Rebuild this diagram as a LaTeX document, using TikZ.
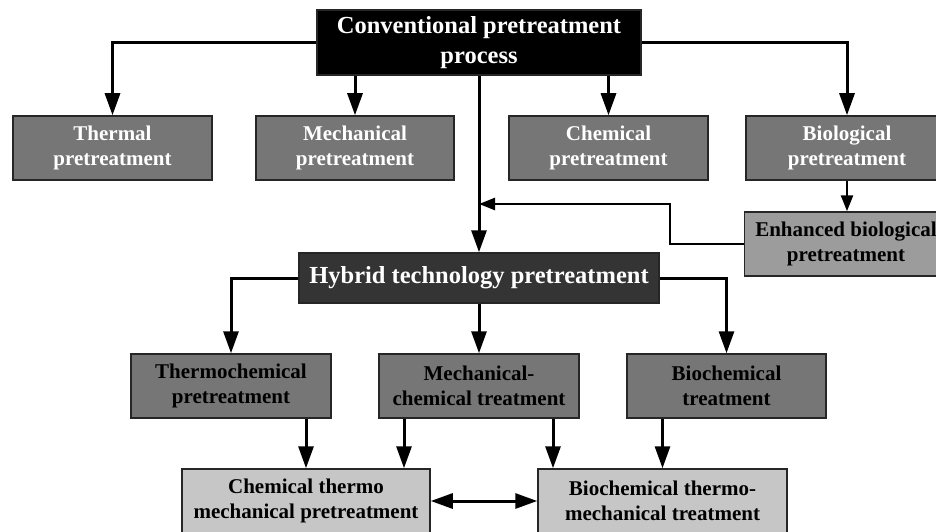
\documentclass[tikz,border=0pt]{standalone}
\usepackage{fontspec}
\setmainfont{Liberation Serif}
\usetikzlibrary{arrows.meta}
\definecolor{hybgray}{RGB}{52,52,52}
\definecolor{midgray}{RGB}{118,118,118}
\definecolor{enhgray}{RGB}{156,156,156}
\definecolor{lightgray}{RGB}{198,198,198}
\begin{document}
\begin{tikzpicture}[x=1pt,y=-1pt,
  box/.style={draw=black!85, line width=1.5pt, align=center, inner sep=0pt,
    minimum height=64pt, font=\fontsize{21}{25}\selectfont\bfseries},
  bigtext/.style={font=\fontsize{24.5}{30}\selectfont\bfseries},
  arr/.style={draw, line width=3pt, -{Triangle[length=22pt,width=15pt]}},
  thinarr/.style={draw, line width=2.5pt, -{Triangle[length=16pt,width=12pt]}}]
\useasboundingbox (0,0) rectangle (936,532);
\node[box, bigtext, fill=black, text=white, minimum width=324pt, minimum height=65pt] (conv) at (479,42.5) {Conventional pretreatment\\process};
\node[box, fill=midgray, text=white, minimum width=199pt] (therm) at (112.5,148) {Thermal\\pretreatment};
\node[box, fill=midgray, text=white, minimum width=198pt] (mech) at (355,148) {Mechanical\\pretreatment};
\node[box, fill=midgray, text=white, minimum width=199pt] (chem) at (608.5,148) {Chemical\\pretreatment};
\node[box, fill=midgray, text=white, minimum width=202pt] (bio) at (847,148) {Biological\\pretreatment};
\node[box, fill=enhgray, minimum width=203pt] (enh) at (846,244) {Enhanced biological\\pretreatment};
\node[box, bigtext, fill=hybgray, text=white, minimum width=360pt, minimum height=50pt] (hyb) at (479,278) {Hybrid technology pretreatment};
\node[box, fill=midgray, minimum width=200pt] (thch) at (231,386) {Thermochemical\\pretreatment};
\node[box, fill=midgray, minimum width=200pt] (mchem) at (479,386) {Mechanical-\\chemical treatment};
\node[box, fill=midgray, minimum width=199pt] (bchem) at (726.5,386) {Biochemical\\treatment};
\node[box, fill=lightgray, minimum width=248pt] (ctm) at (306,501) {Chemical thermo\\mechanical pretreatment};
\node[box, fill=lightgray, minimum width=249pt] (btm) at (662.5,501) {Biochemical thermo-\\mechanical treatment};

\coordinate (join) at (479,204);

\path[arr] (conv.west) -| (therm.north);
\path[arr] (mech.north |- conv.south) -- (mech.north);
\path[arr] (chem.north |- conv.south) -- (chem.north);
\path[arr] (conv.east) -| (bio.north);
\path[arr] (conv.south) -- (hyb.north);
\path[thinarr] (bio.south) -- (bio.south |- enh.north);
\path[thinarr] (enh.west) -- ++(-74,0) |- (join);

\path[arr] (hyb.west) -| (thch.north);
\path[arr] (hyb.south) -- (mchem.north);
\path[arr] (hyb.east) -| (bchem.north);

\path[arr] (thch.south -| ctm.north) -- (ctm.north);
\path[arr] ([xshift=-75pt]mchem.south) -- ([xshift=-75pt]mchem.south |- ctm.north);
\path[arr] ([xshift=74pt]mchem.south) -- ([xshift=74pt]mchem.south |- btm.north);
\path[arr] (bchem.south -| btm.north) -- (btm.north);
\path[draw, line width=3pt, {Triangle[length=22pt,width=15pt]}-{Triangle[length=22pt,width=15pt]}] (ctm.east) -- (btm.west);
\end{tikzpicture}
\end{document}
